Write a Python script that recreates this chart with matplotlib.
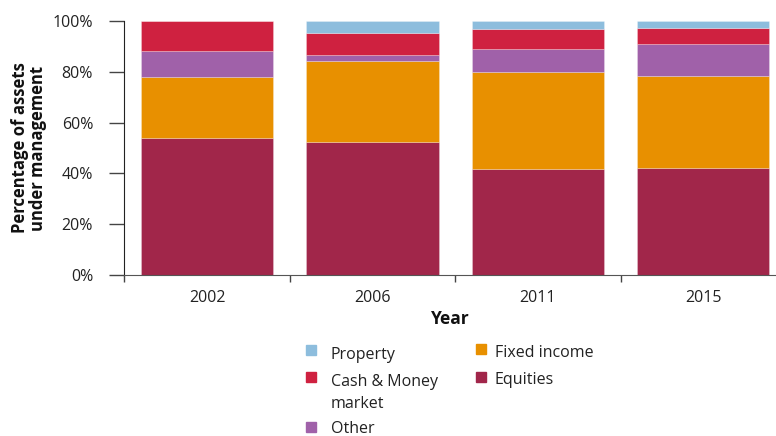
import matplotlib
matplotlib.use("Agg")
import matplotlib.pyplot as plt
from matplotlib.patches import Rectangle
from matplotlib.ticker import FixedLocator, PercentFormatter

plt.rcParams["font.family"] = ["Open Sans", "DejaVu Sans"]

W, H = 776, 436

years = ["2002", "2006", "2011", "2015"]

# shares of assets under management (%)
equities = [54.1, 52.2, 41.6, 42.0]
fixed_income = [23.9, 32.1, 38.3, 36.2]
other = [10.2, 2.3, 9.0, 12.7]
cash_money = [11.8, 8.6, 8.1, 6.5]
property_ = [0.0, 4.8, 3.0, 2.6]

series = [
    ("Equities", equities, "#a1264a"),
    ("Fixed income", fixed_income, "#e89000"),
    ("Other", other, "#a061a9"),
    ("Cash & Money market", cash_money, "#cf2140"),
    ("Property", property_, "#8dbddd"),
]
colors = {name: c for name, _, c in series}


def fx(px):
    return px / W


def fy(py):
    return 1 - py / H


fig = plt.figure(figsize=(W / 100, H / 100), dpi=100)
ax = fig.add_axes([fx(124.3), fy(275), 651.7 / W, 254 / H])

x = list(range(len(years)))
bottom = [0.0] * len(years)
for name, vals, color in series:
    ax.bar(x, vals, width=0.8, bottom=bottom, color=color,
           edgecolor=(1, 1, 1, 0.35), linewidth=0.5, label=name)
    bottom = [b + v for b, v in zip(bottom, vals)]

ax.set_xlim(-0.5, 3.44)
ax.set_ylim(0, 100)
ax.yaxis.set_major_locator(FixedLocator([0, 20, 40, 60, 80, 100]))
ax.yaxis.set_major_formatter(PercentFormatter(decimals=0))

# ticks between categories, labels at the centres
ax.xaxis.set_major_locator(FixedLocator([-0.5, 0.5, 1.5, 2.5]))
ax.xaxis.set_minor_locator(FixedLocator(x))
ax.set_xticklabels([], minor=False)
ax.set_xticklabels(years, minor=True)
ax.tick_params(axis="x", which="major", length=5, width=1, color="#444444")
ax.tick_params(axis="x", which="minor", length=0, pad=11, labelsize=11.5, labelcolor="#222222")
ax.tick_params(axis="y", length=11, width=1, color="#444444", pad=11.5,
               labelsize=11.5, labelcolor="#222222")

for side in ("top", "right"):
    ax.spines[side].set_visible(False)
ax.spines["left"].set_color("#222222")
ax.spines["bottom"].set_color("#555555")

ax.set_xlabel("Year", fontsize=12.5, fontweight="bold", color="#111111", va="baseline")
ax.xaxis.set_label_coords(0.5, (275 - 324.3) / 254)
ax.set_ylabel("Percentage of assets\nunder management", fontsize=12,
              fontweight="bold", color="#111111", linespacing=1.0)
ax.yaxis.set_label_coords((47 - 124.3) / 651.7, 0.5)

# legend: two columns below the chart
legend_items = [
    # (label lines, colour key, square x, square top, text x, first baseline)
    (["Property"], "Property", 306, 345, 331, 359),
    (["Cash & Money", "market"], "Cash & Money market", 306, 372, 331, 386),
    (["Other"], "Other", 306, 422, 331, 433),
    (["Fixed income"], "Fixed income", 476, 344, 495, 357),
    (["Equities"], "Equities", 476, 372, 495, 384),
]
for lines, key, sx, sy, tx, base in legend_items:
    fig.patches.append(Rectangle((fx(sx), fy(sy + 10)), 10 / W, 10 / H,
                                 transform=fig.transFigure, color=colors[key]))
    for i, line in enumerate(lines):
        fig.text(fx(tx), fy(base + 22 * i), line, fontsize=11.5,
                 color="#222222", va="baseline", ha="left")

fig.savefig("out.png", dpi=100)
